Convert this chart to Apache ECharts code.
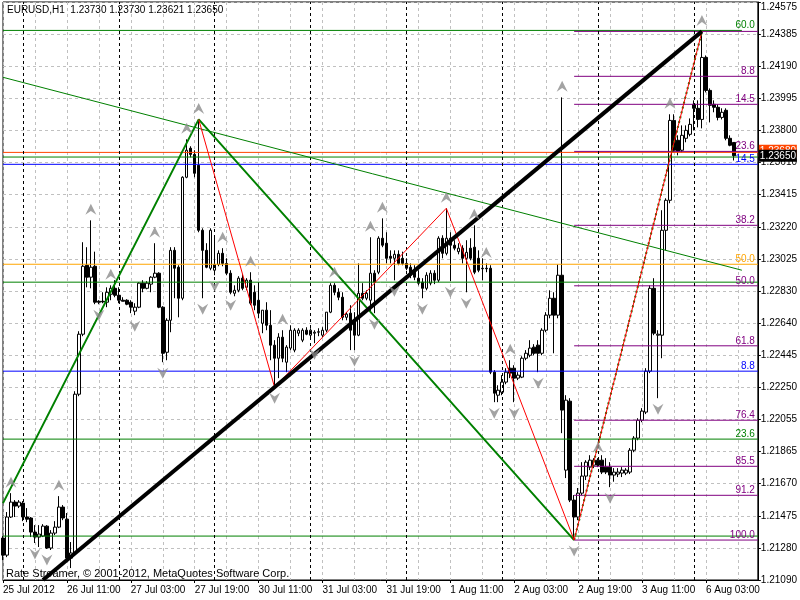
<!DOCTYPE html>
<html><head><meta charset="utf-8">
<script src="https://cdn.jsdelivr.net/npm/echarts@6/dist/echarts.min.js"></script>
<style>html,body{margin:0;padding:0;background:#fff}#c{width:800px;height:600px}</style>
</head><body><div id="c"></div>
<script>
// ---------------- DATA ----------------
const symbolName = 'EURUSD,H1';
const headerQuote = '1.23730 1.23730 1.23621 1.23650';
const copyright = 'Rate Streamer, © 2001-2012, MetaQuotes Software Corp.';

const xTickLabels = ['25 Jul 2012','26 Jul 11:00','27 Jul 03:00','27 Jul 19:00','30 Jul 11:00','31 Jul 03:00','31 Jul 19:00','1 Aug 11:00','2 Aug 03:00','2 Aug 19:00','3 Aug 11:00','6 Aug 03:00'];
const yTickLabels = ['1.21090','1.21280','1.21475','1.21670','1.21865','1.22055','1.22250','1.22445','1.22640','1.22830','1.23025','1.23220','1.23415','1.23610','1.23800','1.23995','1.24190','1.24385','1.24575'];
const daySeparators = [5, 29, 53, 77, 101, 125, 149, 173];

const opens = [1.21343,1.21240,1.21470,1.21560,1.21536,1.21554,1.21470,1.21464,1.21379,1.21349,1.21355,1.21415,1.21283,1.21373,1.21409,1.21530,1.21457,1.21222,1.21253,1.22211,
1.22573,1.22989,1.22917,1.22983,1.22772,1.22772,1.22766,1.22814,1.22850,1.22808,1.22778,1.22778,1.22766,1.22712,1.22736,1.22881,1.22850,1.22875,1.22917,1.22941,
1.22736,1.22464,1.22657,1.23079,1.22977,1.22790,1.23520,1.23695,1.23658,1.23592,1.23200,1.23079,1.22971,1.22959,1.22994,1.23061,1.23000,1.22941,1.22820,1.22838,
1.22911,1.22856,1.22899,1.22826,1.22778,1.22639,1.22718,1.22627,1.22507,1.22428,1.22555,1.22404,1.22489,1.22477,1.22579,1.22537,1.22597,1.22567,1.22579,1.22585,
1.22567,1.22597,1.22706,1.22868,1.22826,1.22796,1.22675,1.22700,1.22657,1.22567,1.22820,1.22790,1.22778,1.22941,1.22947,1.23152,1.23122,1.23043,1.23031,1.23055,
1.23031,1.23000,1.22977,1.22959,1.22911,1.22887,1.22850,1.22881,1.22941,1.22899,1.23152,1.23061,1.23152,1.23110,1.23071,1.23092,1.23031,1.23092,1.23098,1.23031,
1.22971,1.22971,1.22971,1.22344,1.22205,1.22223,1.22284,1.22368,1.22368,1.22308,1.22314,1.22428,1.22446,1.22495,1.22507,1.22458,1.22597,1.22688,1.22790,1.22688,
1.22929,1.21753,1.22169,1.21572,1.21470,1.21614,1.21717,1.21771,1.21783,1.21813,1.21813,1.21771,1.21771,1.21723,1.21729,1.21735,1.21735,1.21741,1.21873,1.21946,
1.22054,1.22103,1.22350,1.22850,1.22567,1.22567,1.23200,1.23381,1.23863,1.23743,1.23683,1.23755,1.23779,1.23960,1.23936,1.23869,1.24243,1.24044,1.23960,1.23942,
1.23881,1.23924,1.23755,1.23730];
const highs = [1.21355,1.21500,1.21614,1.21572,1.21572,1.21566,1.21524,1.21470,1.21421,1.21421,1.21427,1.21421,1.21391,1.21445,1.21596,1.21542,1.21494,1.21319,1.22229,1.22591,
1.23128,1.23098,1.23260,1.23071,1.22778,1.22826,1.22856,1.22868,1.22899,1.22856,1.22796,1.22784,1.22778,1.22760,1.22887,1.22899,1.22893,1.22923,1.23122,1.22947,
1.22742,1.22669,1.23098,1.23098,1.22989,1.23526,1.23749,1.23707,1.23683,1.23869,1.23212,1.23122,1.23212,1.23170,1.23079,1.23092,1.23031,1.22959,1.22868,1.22923,
1.22935,1.22911,1.22947,1.22868,1.22887,1.22718,1.22766,1.22718,1.22537,1.22579,1.22597,1.22507,1.22627,1.22609,1.22609,1.22609,1.22615,1.22609,1.22597,1.22609,
1.22615,1.22706,1.22881,1.22881,1.22850,1.22826,1.22706,1.22748,1.22706,1.23000,1.22881,1.22838,1.23158,1.22959,1.23164,1.23272,1.23188,1.23079,1.23079,1.23079,
1.23071,1.23031,1.23000,1.22989,1.22959,1.22911,1.22947,1.22959,1.22959,1.23164,1.23170,1.23333,1.23188,1.23140,1.23122,1.23110,1.23140,1.23152,1.23230,1.23079,
1.23031,1.23000,1.22989,1.22356,1.22265,1.22326,1.22368,1.22416,1.22386,1.22344,1.22440,1.22477,1.22537,1.22513,1.22537,1.22609,1.22706,1.22838,1.22826,1.22994,
1.24002,1.22205,1.22187,1.21602,1.21645,1.21801,1.21813,1.21843,1.21825,1.21825,1.21843,1.21825,1.21801,1.21765,1.21765,1.21771,1.21765,1.21886,1.21958,1.22066,
1.22127,1.22368,1.22868,1.22911,1.22597,1.23321,1.23393,1.23900,1.23900,1.23773,1.23833,1.23833,1.23875,1.23984,1.23984,1.24400,1.24255,1.24056,1.23984,1.23960,
1.23936,1.23936,1.23773,1.23730];
const lows = [1.21210,1.21228,1.21464,1.21470,1.21524,1.21445,1.21439,1.21349,1.21313,1.21289,1.21349,1.21277,1.21271,1.21361,1.21403,1.21451,1.21198,1.21162,1.21240,1.22199,
1.22561,1.22856,1.22850,1.22754,1.22754,1.22760,1.22736,1.22778,1.22796,1.22760,1.22772,1.22748,1.22700,1.22688,1.22730,1.22826,1.22844,1.22826,1.22911,1.22730,
1.22404,1.22416,1.22585,1.22790,1.22675,1.22778,1.23514,1.23640,1.23520,1.23188,1.22790,1.22971,1.22959,1.22929,1.22983,1.22983,1.22929,1.22814,1.22802,1.22826,
1.22838,1.22838,1.22748,1.22718,1.22669,1.22579,1.22597,1.22416,1.22253,1.22308,1.22404,1.22344,1.22477,1.22464,1.22561,1.22525,1.22567,1.22555,1.22519,1.22561,
1.22555,1.22585,1.22700,1.22808,1.22778,1.22657,1.22657,1.22477,1.22477,1.22561,1.22778,1.22778,1.22700,1.22700,1.22935,1.23098,1.23000,1.23000,1.22898,1.22989,
1.22989,1.22959,1.22911,1.22899,1.22868,1.22790,1.22838,1.22868,1.22875,1.22887,1.23031,1.23049,1.22893,1.23079,1.23055,1.23000,1.22826,1.23019,1.22935,1.22947,
1.22899,1.22947,1.22332,1.22163,1.22163,1.22205,1.22271,1.22308,1.22163,1.22296,1.22308,1.22416,1.22434,1.22446,1.22344,1.22446,1.22585,1.22669,1.22458,1.22669,
1.21976,1.21705,1.21560,1.21331,1.21451,1.21602,1.21693,1.21753,1.21765,1.21771,1.21729,1.21729,1.21650,1.21683,1.21711,1.21711,1.21723,1.21729,1.21861,1.21933,
1.22042,1.22091,1.22338,1.22567,1.22187,1.22428,1.23079,1.23363,1.23670,1.23652,1.23670,1.23731,1.23767,1.23803,1.23821,1.23815,1.24032,1.23851,1.23912,1.23863,
1.23869,1.23743,1.23707,1.23621];
const closes = [1.21240,1.21470,1.21560,1.21536,1.21560,1.21470,1.21457,1.21379,1.21349,1.21367,1.21415,1.21283,1.21373,1.21409,1.21530,1.21464,1.21222,1.21253,1.22211,1.22573,
1.22983,1.22917,1.22977,1.22766,1.22766,1.22768,1.22826,1.22850,1.22808,1.22778,1.22772,1.22754,1.22736,1.22736,1.22881,1.22850,1.22881,1.22917,1.22941,1.22736,
1.22458,1.22657,1.23079,1.22971,1.22790,1.23520,1.23683,1.23658,1.23544,1.23200,1.23079,1.22977,1.23200,1.22994,1.23061,1.23000,1.22941,1.22826,1.22838,1.22911,
1.22850,1.22899,1.22760,1.22748,1.22700,1.22718,1.22627,1.22507,1.22428,1.22555,1.22428,1.22495,1.22597,1.22597,1.22597,1.22597,1.22573,1.22597,1.22585,1.22588,
1.22597,1.22706,1.22868,1.22826,1.22796,1.22675,1.22694,1.22597,1.22567,1.22820,1.22790,1.22820,1.22941,1.22887,1.23152,1.23110,1.23031,1.23031,1.23055,1.23000,
1.23000,1.22971,1.22929,1.22917,1.22881,1.22850,1.22929,1.22941,1.22899,1.23152,1.23061,1.23152,1.23110,1.23092,1.23092,1.23031,1.23067,1.23031,1.22947,1.22959,
1.22968,1.22968,1.22344,1.22217,1.22235,1.22284,1.22344,1.22338,1.22308,1.22326,1.22428,1.22458,1.22489,1.22458,1.22458,1.22597,1.22688,1.22790,1.22688,1.22929,
1.22115,1.22175,1.21572,1.21470,1.21614,1.21717,1.21801,1.21813,1.21813,1.21783,1.21741,1.21741,1.21723,1.21741,1.21741,1.21753,1.21753,1.21873,1.21946,1.22054,
1.22109,1.22350,1.22850,1.22579,1.22573,1.23200,1.23381,1.23863,1.23683,1.23677,1.23773,1.23803,1.23839,1.23936,1.23869,1.24243,1.24044,1.23954,1.23942,1.23881,
1.23912,1.23755,1.23713,1.23650];

// fractal arrows (bar indexes)
const upFractals = [2,14,22,27,38,46,49,55,62,70,83,92,95,111,118,121,127,140,149,167,175];
const downFractals = [8,11,24,33,40,50,53,57,68,78,88,93,98,105,112,116,123,128,134,143,152,164];

// drawn objects: [barIndex, price]
const zigzagGreen = [[0,1.21554],[49,1.23869],[143,1.21331]];
const zigzagGreenDotted = [[143,1.21331],[175,1.24400]];
const zigzagRed = [[49,1.23869],[68,1.22253],[111,1.23333],[143,1.21331],[175,1.24400]];
const trendBlack = [[10,1.21090],[175,1.24400]];
const trendGreenThin = [[0,1.24123],[185,1.22959]];

// horizontal levels: [startBar, endBar]
const hLevels = [1.24406, 1.23670, 1.23642, 1.23598, 1.22995, 1.22887, 1.22350, 1.21940, 1.21355];
const hSpans  = [[0,185],[0,189],[0,189],[0,189],[0,189],[0,189],[0,189],[0,189],[0,189]];
const hLabels = ['60.0', '', '', '14.5', '50.0', '', '8.8', '23.6', ''];
const hKinds  = ['green','red','green','blue','orange','green','blue','green','green'];

// fibonacci (purple) from the swing low bar to the right edge
const fibStart = 143, fibEnd = 189;
const fibPrices = [1.24400,1.24129,1.23960,1.23676,1.23230,1.22865,1.22503,1.22054,1.21776,1.21601,1.21331];
const fibLabels = ['','8.8','14.5','23.6','38.2','50.0','61.8','76.4','85.5','91.2','100.0'];

const bidPrice = 1.23650;
const linePrice = 1.23680;

// ---------------- CHART ----------------
const N_SLOTS = 190;
const LAST = N_SLOTS - 1;
const categories = Array.from({length: N_SLOTS}, (_, i) => String(i));
const Y_MIN = 1.2109, Y_STEP = 0.00193744, Y_MAX = Y_MIN + (yTickLabels.length - 1) * Y_STEP;
const FONT = "'Liberation Sans', Arial, sans-serif";
const FS = 10;
const COLORS = {green:'#008000', red:'#FF4500', blue:'#0000FF', orange:'#FFA500', purple:'#800080'};

const candleData = opens.map((o, i) => [o, closes[i], lows[i], highs[i]]);

function lineSeries(data, color, width, type, z) {
  return {type:'line', data, symbol:'none', silent:true, animation:false, z: z || 5,
    lineStyle:{color, width, type: type || 'solid'}};
}

const levelSeriesList = [];
const levelLabels = [];
hLevels.forEach((p, i) => {
  levelSeriesList.push(lineSeries([[hSpans[i][0], p], [hSpans[i][1], p]], COLORS[hKinds[i]], 1, 'solid', 4));
  if (hLabels[i]) levelLabels.push({x: LAST, p, text: hLabels[i], color: COLORS[hKinds[i]]});
});
fibPrices.forEach((p, i) => {
  levelSeriesList.push(lineSeries([[fibStart, p], [fibEnd, p]], COLORS.purple, 1, 'solid', 4));
  if (fibLabels[i]) levelLabels.push({x: fibEnd, p, text: fibLabels[i], color: COLORS.purple});
});

const upArrow = 'path://M5 0 L10 10 L5 6.5 L0 10 Z';
const downArrow = 'path://M0 0 L5 3.5 L10 0 L5 10 Z';

const option = {
  animation: false,
  backgroundColor: '#fff',
  grid: {left: 3, right: 39, top: 2, bottom: 20, show: true, borderColor: '#000', borderWidth: 1, backgroundColor: '#fff'},
  xAxis: {
    type: 'category', data: categories, boundaryGap: false,
    axisLine: {show: true, lineStyle: {color: '#000'}},
    axisTick: {show: true, interval: 15, length: 3, lineStyle: {color: '#000'}},
    axisLabel: {interval: 15, align: 'left', margin: 5, color: '#000', fontFamily: FONT, fontSize: FS,
      formatter: (v, idx) => (idx % 16 === 0 ? (xTickLabels[idx / 16] || '') : '')},
    splitLine: {show: true, interval: 7, lineStyle: {color: '#c0c0c0', type: [3, 3], width: 1}}
  },
  yAxis: {
    type: 'value', position: 'right', min: Y_MIN, max: Y_MAX, interval: Y_STEP, scale: true,
    axisLine: {show: true, lineStyle: {color: '#000'}},
    axisTick: {show: true, length: 3, lineStyle: {color: '#000'}},
    axisLabel: {color: '#000', fontFamily: FONT, fontSize: FS, margin: 3, verticalAlignMaxLabel: 'top',
      formatter: v => {
        const r = (v - Y_MIN) / Y_STEP, k = Math.round(r);
        return (k >= 0 && k < yTickLabels.length && Math.abs(r - k) < 0.05) ? yTickLabels[k] : '';
      }},
    splitLine: {show: true, lineStyle: {color: '#c0c0c0', type: [3, 3], width: 1}}
  },
  series: [
    {
      type: 'line', data: [], silent: true, z: 1,
      markLine: {silent: true, symbol: ['none', 'none'], animation: false, precision: 6,
        lineStyle: {color: '#000', type: [3, 3], width: 1}, label: {show: false},
        data: daySeparators.map(i => ({xAxis: i}))}
    },
    {
      type: 'candlestick', data: candleData, barWidth: 3, z: 3, silent: true,
      itemStyle: {color: '#fff', color0: '#000', borderColor: '#000', borderColor0: '#000', borderWidth: 1}
    }
  ].concat(levelSeriesList).concat([
    lineSeries(trendGreenThin, COLORS.green, 1, 'solid', 5),
    lineSeries(zigzagGreen, COLORS.green, 2, 'solid', 6),
    lineSeries(zigzagGreenDotted, COLORS.green, 2, [2, 3], 6),
    lineSeries(zigzagRed, '#FF0000', 1, 'solid', 7),
    lineSeries(trendBlack, '#000', 4, 'solid', 8),
    {
      type: 'scatter', silent: true, z: 9, symbol: upArrow, symbolSize: [11, 11], symbolOffset: [0, -11],
      itemStyle: {color: '#8c8c8c'}, data: upFractals.map(i => [i, highs[i]])
    },
    {
      type: 'scatter', silent: true, z: 9, symbol: downArrow, symbolSize: [11, 11], symbolOffset: [0, 11],
      itemStyle: {color: '#8c8c8c'}, data: downFractals.map(i => [i, lows[i]])
    }
  ])
};
const chart = echarts.init(document.getElementById('c'), null, {renderer: 'canvas'});
chart.setOption(option);

// texts placed through the chart's own scales
const small = {fontFamily: FONT, fontSize: FS};
const graphics = [
  {type: 'text', x: 7, y: 5, z: 100, style: Object.assign({text: symbolName + '  ' + headerQuote, fill: '#000'}, small)},
  {type: 'text', x: 6, y: 568, z: 100, style: {text: copyright, fill: '#000', fontFamily: FONT, fontSize: 11}}
];
levelLabels.forEach(l => {
  const pt = chart.convertToPixel({xAxisIndex: 0, yAxisIndex: 0}, [l.x, l.p]);
  graphics.push({type: 'text', x: pt[0] - 3, y: pt[1], z: 50,
    style: Object.assign({text: l.text, fill: l.color, align: 'right', verticalAlign: 'bottom'}, small)});
});
[[linePrice, COLORS.red], [bidPrice, '#000']].forEach(([p, bg], k) => {
  const pt = chart.convertToPixel({xAxisIndex: 0, yAxisIndex: 0}, [LAST, p]);
  graphics.push({type: 'rect', x: pt[0] + 1, y: pt[1] - 6, z: 60 + 2 * k, shape: {width: 38, height: 12}, style: {fill: bg}});
  graphics.push({type: 'text', x: pt[0] + 2, y: pt[1] + 1, z: 61 + 2 * k,
    style: Object.assign({text: p.toFixed(5), fill: '#fff', align: 'left', verticalAlign: 'middle'}, small)});
});
chart.setOption({graphic: graphics});
</script>
</body></html>
